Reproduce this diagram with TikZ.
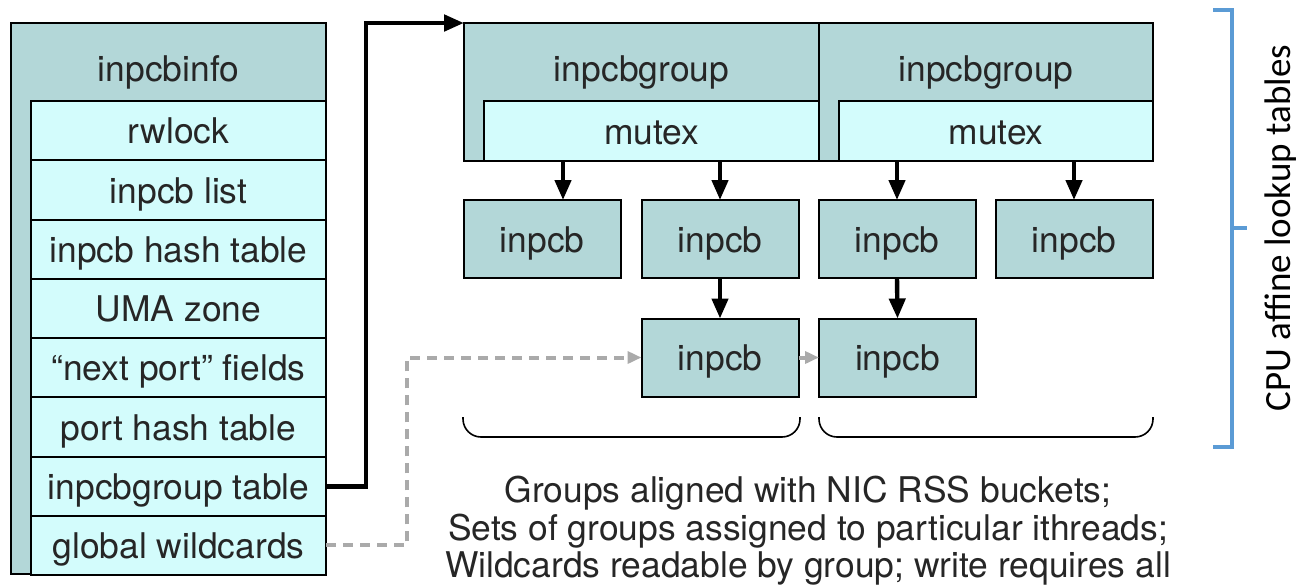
\documentclass[tikz,border=0pt]{standalone}
\usepackage{fontspec}
\setmainfont{TeX Gyre Heros}
\newfontfamily\calib{Carlito}
\usetikzlibrary{arrows.meta}
\definecolor{teal1}{HTML}{B3D7D8}
\definecolor{cyan1}{HTML}{D3FCFC}
\definecolor{bracecol}{HTML}{5B9BD5}
\definecolor{dgray}{HTML}{AAAAAA}
\begin{document}
\begin{tikzpicture}[x=0.5pt,y=-0.5pt,
 box/.style={draw=black, line width=1pt, fill=teal1, inner sep=0pt, outer sep=0pt, font=\fontsize{17.7}{20}\selectfont, text=black!85, text height=13.2pt, text depth=0pt},
 rowbox/.style={box, fill=cyan1, minimum width=147.5pt, minimum height=29.6pt},
 pcb/.style={box, minimum width=78.5pt, minimum height=39pt},
 txt/.style={inner sep=0pt, font=\fontsize{17.7}{20}\selectfont, text=black!85, text height=13.2pt, text depth=0pt},
 arr/.style={line width=2.2pt, -{Triangle[length=10pt,width=8pt]}},
 garr/.style={draw=dgray, line width=2pt, -{Triangle[length=7pt,width=6pt]}, dash pattern=on 5pt off 3.5pt},
 bracket/.style={line width=0.8pt, rounded corners=9pt},
 ]
\useasboundingbox (0,0) rectangle (1299,584);

% inpcbinfo
\node[box, minimum width=157.5pt, minimum height=275.5pt] (info) at (168.5,298.5) {};
\node[txt] (infot) at (168.5,68) {inpcbinfo};
\node[rowbox] (r1) at (178.5,130.6) {rwlock};
\node[rowbox] (r2) at (178.5,189.9) {inpcb list};
\node[rowbox] (r3) at (178.5,249.1) {inpcb hash table};
\node[rowbox] (r4) at (178.5,308.4) {UMA zone};
\node[rowbox] (r5) at (178.5,367.6) {“next port” fields};
\node[rowbox] (r6) at (178.5,426.9) {port hash table};
\node[rowbox] (r7) at (178.5,486.1) {inpcbgroup table};
\node[rowbox] (r8) at (178.5,545.4) {global wildcards};

% groups
\node[box, minimum width=177.5pt, minimum height=69pt] (g1) at (641.5,92) {};
\node[txt] (g1t) at (641.5,68) {inpcbgroup};
\node[box, fill=cyan1, minimum width=167.5pt, minimum height=30pt] (m1) at (651.5,131) {mutex};
\node[box, minimum width=167pt, minimum height=69pt] (g2) at (986,92) {};
\node[txt] (g2t) at (986,68) {inpcbgroup};
\node[box, fill=cyan1, minimum width=157pt, minimum height=30pt] (m2) at (996,131) {mutex};

% inpcbs
\node[pcb] (b1) at (542,239) {inpcb};
\node[pcb] (b2) at (720,239) {inpcb};
\node[pcb] (b3) at (897,239) {inpcb};
\node[pcb] (b4) at (1074,239) {inpcb};
\node[pcb] (b5) at (720,357.5) {inpcb};
\node[pcb] (b6) at (897.5,357.5) {inpcb};

% arrows
\coordinate (a1) at (563,0);
\draw[arr] (m1.south -| a1) -- (b1.north -| a1);
\draw[arr] (m1.south -| b2.north) -- (b2.north);
\draw[arr] (m2.south -| b3.north) -- (b3.north);
\draw[arr] (m2.south -| b4.north) -- (b4.north);
\draw[arr] (b2.south) -- (b5.north);
\draw[arr] (b3.south) -- (b6.north);

\coordinate (k1) at (366,0);
\draw[line width=2.4pt, -{Triangle[length=10pt,width=8pt]}] (r7.east) -- (r7.east -| k1) -- (k1 |- g1.north west) -- (g1.north west);

\coordinate (k2) at (407,0);
\draw[garr] (r8.east) -- (r8.east -| k2) -- (k2 |- b5.west) -- (b5.west);
\draw[draw=dgray, line width=2pt, -{Triangle[length=7pt,width=6pt]}] (b5.east) -- (b6.west);

% brackets
\draw[bracket] (463,417) -- (463,437) -- (800,437) -- (800,417);
\draw[bracket] (819,417) -- (819,437) -- (1153,437) -- (1153,417);

\draw[draw=bracecol, line width=2pt] (1213,10) -- (1232,10) -- (1232,447) -- (1213,447);
\draw[draw=bracecol, line width=2pt] (1232,228) -- (1247,228);
\node[rotate=90, inner sep=0pt, font=\calib\fontsize{18.5}{20}\selectfont] (cpu) at (1281,228) {CPU affine lookup tables};

\node[inner sep=0pt, text=black!85, align=center, font=\fontsize{17.7}{18.75}\selectfont] (note) at (808,531) {Groups aligned with NIC RSS buckets;\\Sets of groups assigned to particular ithreads;\\Wildcards readable by group; write requires all};
\end{tikzpicture}
\end{document}
